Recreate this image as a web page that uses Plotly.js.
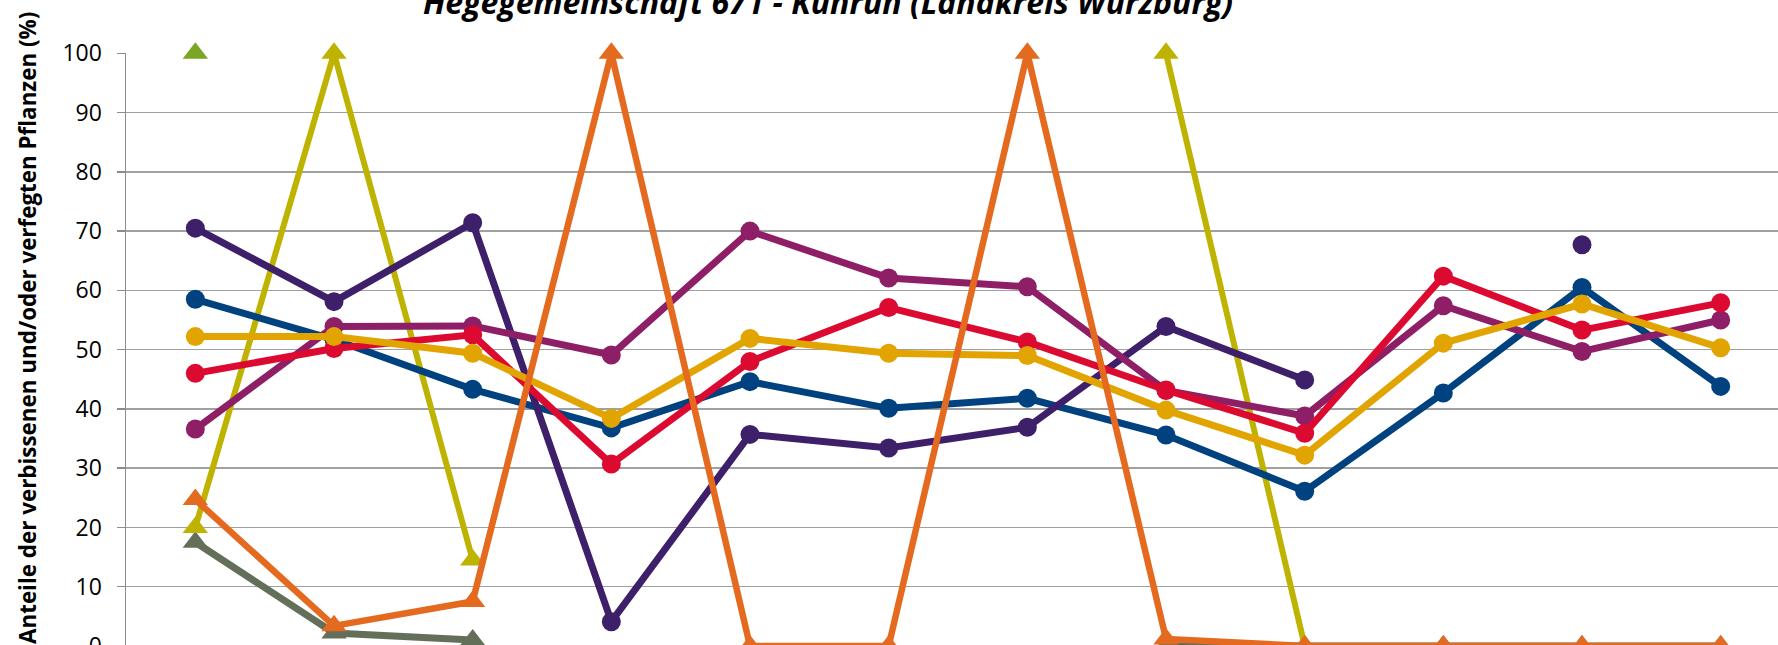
<!DOCTYPE html>
<html>
<head>
<meta charset="utf-8">
<script src="https://cdn.plot.ly/plotly-3.0.1.min.js"></script>
<style>
  html, body { margin: 0; padding: 0; overflow: hidden; background: #fff; }
  #chart { width: 1800px; height: 700px; }
</style>
</head>
<body>
<div id="chart"></div>
<script>
// Survey years (x categories; tick labels lie below the visible area)
const categories = ['1991','1994','1997','2000','2003','2006','2009','2012','2015','2018','2021','2024'];

// Series values (%)
const fichte        = [58.5, 51.7, 43.3, 36.8, 44.6, 40.1, 41.8, 35.6, 26.1, 42.7, 60.5, 43.8];
const buche         = [70.5, 58.1, 71.4, 4.1, 35.7, 33.4, 36.9, 53.9, 44.9, null, 67.7, null];
const eiche         = [36.6, 53.9, 54.0, 49.1, 70.0, 62.1, 60.6, 43.1, 38.8, 57.4, 49.7, 55.0];
const edellaubholz  = [46.0, 50.2, 52.5, 30.7, 48.0, 57.1, 51.3, 43.2, 35.9, 62.4, 53.3, 57.9];
const sonstLaubholz = [52.2, 52.2, 49.4, 38.4, 51.9, 49.4, 49.0, 39.8, 32.2, 51.1, 57.7, 50.3];
const tanne         = [20.0, 100, 14.5, null, null, null, null, 100, 0, null, null, null];
const kiefer        = [100, null, null, null, null, null, null, null, null, null, null, null];
const laerche       = [17.5, 2.2, 1.0, null, null, null, null, 0, 0, 0, 0, 0];
const douglasie     = [24.7, 3.4, 7.5, 100, 0, 0, 100, 1.2, 0, 0, 0, 0];

const yTicks = [0, 10, 20, 30, 40, 50, 60, 70, 80, 90, 100];
const yTitle = 'Anteile der verbissenen und/oder verfegten Pflanzen (%)';

function lineTrace(name, y, color, symbol, width, size) {
  return {
    type: 'scatter', mode: 'lines+markers', name: name,
    x: categories, y: y,
    line: { color: color, width: width },
    marker: { color: color, symbol: symbol, size: size },
    cliponaxis: false,
    connectgaps: false
  };
}

const data = [
  lineTrace('Kiefer', kiefer, '#7AA525', 'triangle-up', 7, 22),
  lineTrace('Lärche', laerche, '#646F5A', 'triangle-up', 7, 22),
  lineTrace('Tanne', tanne, '#BDB300', 'triangle-up', 6, 22),
  lineTrace('Fichte', fichte, '#00427F', 'circle', 7, 19),
  lineTrace('Buche', buche, '#3D1F6A', 'circle', 7, 19),
  lineTrace('Eiche', eiche, '#8E1F66', 'circle', 7, 19),
  lineTrace('Edellaubholz', edellaubholz, '#DC0A30', 'circle', 7, 19),
  lineTrace('Sonstiges Laubholz', sonstLaubholz, '#E2A400', 'circle', 7, 19),
  lineTrace('Douglasie', douglasie, '#E46A1F', 'triangle-up', 6.5, 22)
];

const layout = {
  width: 1800, height: 700,
  margin: { l: 126, r: 10, t: 53, b: 54 },
  paper_bgcolor: '#ffffff', plot_bgcolor: '#ffffff',
  showlegend: false,
  font: { family: 'Open Sans, sans-serif', color: '#000000' },
  title: {
    text: 'Hegegemeinschaft 671 - Kühruh (Landkreis Würzburg)',
    font: { family: 'Open Sans, sans-serif', size: 32, weight: 700, style: 'italic', color: '#000' },
    xref: 'container', x: 828 / 1800, xanchor: 'center',
    yref: 'container', y: 1 - 3 / 700, yanchor: 'middle'
  },
  xaxis: {
    type: 'category',
    range: [-0.5, 11.5],
    showgrid: false, zeroline: false,
    showline: false, showticklabels: false, ticks: ''
  },
  yaxis: {
    range: [0, 100.05],
    tickvals: yTicks,
    ticktext: yTicks.map(String),
    showgrid: true, gridcolor: '#A0A0A0', gridwidth: 1.5,
    zeroline: false,
    showline: true, linecolor: '#8C8C8C', linewidth: 1.5,
    ticks: 'outside', ticklen: 8, tickcolor: '#8C8C8C', tickwidth: 1.5,
    ticklabelstandoff: 10,
    tickfont: { family: 'Open Sans, sans-serif', size: 23, color: '#000' },
    automargin: false
  },
  annotations: [{
    text: yTitle,
    textangle: -90,
    xref: 'paper', x: 0, xanchor: 'center', xshift: -99,
    yref: 'paper', y: (646 - 328) / 593, yanchor: 'middle',
    showarrow: false,
    font: { family: 'Open Sans, sans-serif', size: 22.4, weight: 700, color: '#000' }
  }]
};

Plotly.newPlot('chart', data, layout, { displayModeBar: false, staticPlot: true });
</script>
</body>
</html>
